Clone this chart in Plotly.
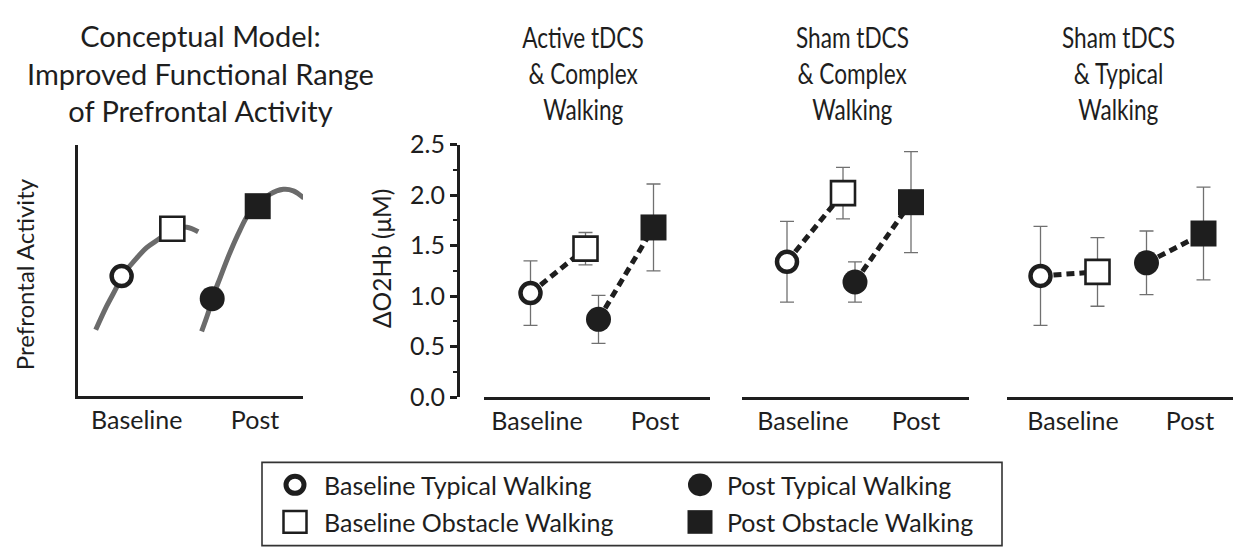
import json
import plotly.graph_objects as go

# ---------------- data ----------------
categories = ["Baseline", "Post"]
panel_titles = ["Active tDCS<br>& Complex<br>Walking",
                "Sham tDCS<br>& Complex<br>Walking",
                "Sham tDCS<br>& Typical<br>Walking"]

baseline_typical = [1.03, 1.34, 1.20]
baseline_typical_se = [0.32, 0.40, 0.49]
baseline_obstacle = [1.47, 2.02, 1.24]
baseline_obstacle_se = [0.16, 0.255, 0.34]
post_typical = [0.77, 1.14, 1.33]
post_typical_se = [0.237, 0.20, 0.315]
post_obstacle = [1.68, 1.93, 1.62]
post_obstacle_se = [0.43, 0.50, 0.46]

y_ticks = [0.0, 0.5, 1.0, 1.5, 2.0, 2.5]

# conceptual model (arbitrary units 0-100)
concept_baseline_x = [8.0, 12.9, 17.3, 19.5, 24.7, 30.6, 36.5, 42.0, 48.4, 53.5]
concept_baseline_y = [26.3, 35.8, 43.3, 47.7, 53.3, 59.0, 62.7, 66.5, 67.1, 65.3]
concept_post_x = [55.0, 58.0, 59.7, 63.2, 67.6, 72.0, 75.7, 79.9, 85.4, 91.3, 95.7, 100.4]
concept_post_y = [25.7, 33.3, 38.7, 47.0, 57.1, 65.9, 72.1, 75.5, 80.3, 82.2, 81.6, 78.7]
concept_points_x = [19.5, 42.0, 59.7, 79.9]   # BT, BO, PT, PO
concept_points_y = [47.7, 66.5, 38.7, 75.5]
concept_label_x = [26.2, 78.7]

legend_labels = ["Baseline Typical Walking", "Baseline Obstacle Walking",
                 "Post Typical Walking", "Post Obstacle Walking"]

# ---------------- layout helpers ----------------
W, H = 1235, 553
FONT = "Lato"
INK = "#1e1e1e"
GREY = "#6b6b6b"
TITLE_SQUEEZE = 0.78   # panel titles use a condensed face in the original


def fx(p):
    return p / W


def fy(p):
    return 1 - p / H


# pixel geometry of the three data panels (line extent, category centres, half offset, label centres)
PANELS = [
    dict(line=(484, 710), centers=(558, 626), half=27.5, labels=(537, 655), title_x=583),
    dict(line=(742, 969), centers=(815, 883), half=28.0, labels=(803, 916), title_x=852),
    dict(line=(1007, 1233), centers=(1069, 1175), half=28.5, labels=(1073, 1190), title_x=1118),
]

OPEN_CIRCLE = dict(symbol="circle", size=20, color="white", line=dict(color=INK, width=4.5))
FILL_CIRCLE = dict(symbol="circle", size=25, color=INK, line=dict(color=INK, width=0))
OPEN_SQUARE = dict(symbol="square", size=24, color="white", line=dict(color=INK, width=2.6))
FILL_SQUARE = dict(symbol="square", size=26, color=INK, line=dict(color=INK, width=0))

fig = go.Figure()

# ---------------- conceptual panel ----------------
for cx, cy in [(concept_baseline_x, concept_baseline_y), (concept_post_x, concept_post_y)]:
    fig.add_trace(go.Scatter(x=cx, y=cy, mode="lines", line=dict(color=GREY, width=5, shape="spline"),
                             xaxis="x", yaxis="y", cliponaxis=False, showlegend=False, hoverinfo="skip"))
for i, mk in enumerate([OPEN_CIRCLE, OPEN_SQUARE, FILL_CIRCLE, FILL_SQUARE]):
    fig.add_trace(go.Scatter(x=[concept_points_x[i]], y=[concept_points_y[i]], mode="markers", marker=mk,
                             xaxis="x", yaxis="y", cliponaxis=False, showlegend=False))

# ---------------- data panels ----------------
axis_layout = {}
for k, g in enumerate(PANELS):
    n = k + 2
    xa, ya = f"x{n}", f"y{n}"
    c0, c1 = g["centers"]
    u = c1 - c0
    off = g["half"] / u
    L, R = g["line"]
    xs_typ = [0 - off, 1 - off]
    xs_obs = [0 + off, 1 + off]
    for ci, (ty, oy) in enumerate([(baseline_typical[k], baseline_obstacle[k]),
                                   (post_typical[k], post_obstacle[k])]):
        fig.add_trace(go.Scatter(x=[xs_typ[ci], xs_obs[ci]], y=[ty, oy], mode="lines",
                                 line=dict(color=INK, width=5, dash="8px,5px"),
                                 xaxis=xa, yaxis=ya, showlegend=False, hoverinfo="skip"))
    series = [
        (xs_typ[0], baseline_typical[k], baseline_typical_se[k], OPEN_CIRCLE),
        (xs_obs[0], baseline_obstacle[k], baseline_obstacle_se[k], OPEN_SQUARE),
        (xs_typ[1], post_typical[k], post_typical_se[k], FILL_CIRCLE),
        (xs_obs[1], post_obstacle[k], post_obstacle_se[k], FILL_SQUARE),
    ]
    for x, y, se, mk in series:
        fig.add_trace(go.Scatter(x=[x], y=[y], mode="markers", marker=mk,
                                 error_y=dict(type="data", array=[se], visible=True, color="#707070",
                                              thickness=1.3, width=7),
                                 xaxis=xa, yaxis=ya, showlegend=False, cliponaxis=False))
    axis_layout[f"xaxis{n}"] = dict(
        domain=[fx(L), fx(R)], range=[(L - c0) / u, (R - c0) / u], anchor=ya,
        showline=True, linecolor=INK, linewidth=3, showgrid=False, zeroline=False,
        ticks="", tickvals=[(p - c0) / u for p in g["labels"]], ticktext=categories,
        tickfont=dict(family=FONT, size=25, color=INK), ticklabelstandoff=0)
    yd = dict(domain=[fy(403), fy(136)], range=[0, 2.5], showgrid=False, zeroline=False)
    if k == 0:
        yd.update(anchor="free", position=fx(458), showline=True, linecolor=INK, linewidth=3,
                  ticks="outside", ticklen=7, tickwidth=2.5, tickcolor=INK,
                  tickvals=y_ticks, tickformat=".1f",
                  tickfont=dict(family=FONT, size=25, color=INK),
                  minor=dict(ticks="outside", ticklen=4, tickwidth=2, tickcolor=INK, dtick=0.25))
    else:
        yd.update(visible=False, anchor=xa)
    axis_layout[f"yaxis{n}"] = yd

# ---------------- annotations ----------------
ann = []
ann.append(dict(text="Conceptual Model:<br>Improved Functional Range<br>of Prefrontal Activity",
                x=fx(200), y=fy(60), xref="paper", yref="paper", showarrow=False,
                xanchor="center", yanchor="middle", font=dict(family=FONT, size=29, color=INK)))
TITLE_ROWS = [22, 60, 98]
title_lines = set()
for g, t in zip(PANELS, panel_titles):
    for line, yrow in zip(t.split("<br>"), TITLE_ROWS):
        title_lines.add(line)
        ann.append(dict(text=line, x=fx(g["title_x"]), y=fy(yrow), xref="paper", yref="paper",
                        showarrow=False, xanchor="center", yanchor="middle",
                        font=dict(family=FONT, size=29, color=INK)))
ann.append(dict(text="ΔO2Hb (μM)", x=fx(381), y=fy(257), xref="paper", yref="paper", showarrow=False,
                textangle=-90, xanchor="center", yanchor="middle",
                font=dict(family=FONT, size=24.5, color=INK)))
ann.append(dict(text="Prefrontal Activity", x=fx(24), y=fy(273), xref="paper", yref="paper",
                showarrow=False, textangle=-90, xanchor="center", yanchor="middle",
                font=dict(family=FONT, size=24, color=INK)))

# legend
LEG_ROWS = [495.7, 535]
LEG_COLS = [(295, 321.7), (700, 725)]
leg_order = [(0, 0), (0, 1), (1, 0), (1, 1)]  # (col,row) for BT, BO, PT, PO
for lab, (c, r) in zip(legend_labels, leg_order):
    ann.append(dict(text=lab, x=fx(LEG_COLS[c][1]), y=fy(LEG_ROWS[r]), xref="paper", yref="paper",
                    showarrow=False, xanchor="left", yanchor="middle",
                    font=dict(family=FONT, size=25, color=INK)))

shapes = []
shapes.append(dict(type="rect", xref="paper", yref="paper", x0=fx(262), x1=fx(1002), y0=fy(472), y1=fy(560),
                   line=dict(color="#333", width=1.6), fillcolor="rgba(0,0,0,0)"))


def circ(cx, cy, d, fill, lw):
    return dict(type="circle", xref="paper", yref="paper",
                x0=fx(cx - d / 2), x1=fx(cx + d / 2), y0=fy(cy + d / 2), y1=fy(cy - d / 2),
                fillcolor=fill, line=dict(color=INK, width=lw))


def sq(cx, cy, s, fill, lw):
    return dict(type="rect", xref="paper", yref="paper",
                x0=fx(cx - s / 2), x1=fx(cx + s / 2), y0=fy(cy + s / 2), y1=fy(cy - s / 2),
                fillcolor=fill, line=dict(color=INK, width=lw))


shapes.append(circ(LEG_COLS[0][0], LEG_ROWS[0], 18, "white", 5))
shapes.append(sq(LEG_COLS[0][0], LEG_ROWS[1], 23, "white", 2.5))
shapes.append(circ(LEG_COLS[1][0], LEG_ROWS[0], 24, INK, 0))
shapes.append(sq(LEG_COLS[1][0], LEG_ROWS[1], 25, INK, 0))

fig.update_layout(
    width=W, height=H, margin=dict(l=0, r=0, t=0, b=0),
    paper_bgcolor="white", plot_bgcolor="rgba(0,0,0,0)",
    showlegend=False,
    xaxis=dict(domain=[fx(77.7), fx(303)], range=[0, 100], anchor="y",
               showline=True, linecolor=INK, linewidth=3, showgrid=False, zeroline=False, ticks="",
               tickvals=concept_label_x, ticktext=categories,
               tickfont=dict(family=FONT, size=25, color=INK), ticklabelstandoff=0),
    yaxis=dict(domain=[fy(401.7), fy(136)], range=[0, 100], anchor="x",
               showline=True, linecolor=INK, linewidth=3, showgrid=False, zeroline=False,
               ticks="", showticklabels=False),
    annotations=ann, shapes=shapes,
    **axis_layout,
)

# remove the page's default 8px body margin, and condense the panel-title text horizontally
post_js = """
document.body.style.margin = '0px';
var lines = %s;
document.querySelectorAll('text.annotation-text').forEach(function (el) {
  if (lines.indexOf(el.textContent) >= 0) {
    el.style.transformBox = 'fill-box';
    el.style.transformOrigin = 'center';
    el.style.transform = 'scaleX(%s)';
  }
});
""" % (json.dumps(sorted(title_lines)), TITLE_SQUEEZE)

fig.write_html("out.html", config={"displayModeBar": False}, post_script=post_js)
